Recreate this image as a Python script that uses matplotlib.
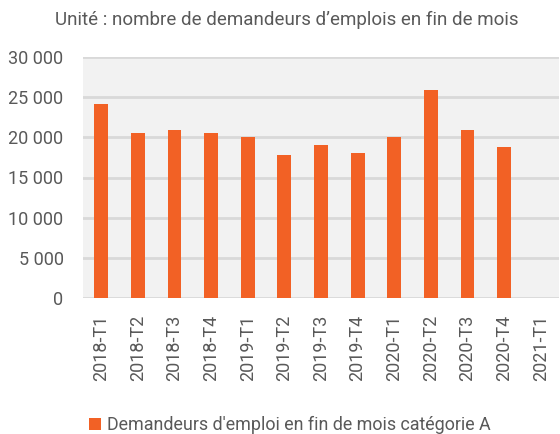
import matplotlib.pyplot as plt
import numpy as np

plt.rcParams['font.family'] = ['Roboto', 'DejaVu Sans']

trimestres = ["2018-T1", "2018-T2", "2018-T3", "2018-T4",
              "2019-T1", "2019-T2", "2019-T3", "2019-T4",
              "2020-T1", "2020-T2", "2020-T3", "2020-T4", "2021-T1"]
demandeurs = [24100, 20600, 20900, 20600,
              20100, 17800, 19100, 18100,
              20100, 25900, 20900, 18800, np.nan]
yticks = [0, 5000, 10000, 15000, 20000, 25000, 30000]
ytick_labels = ["0", "5 000", "10 000", "15 000", "20 000", "25 000", "30 000"]

grey_txt = "#595959"
orange = "#f26125"

fig = plt.figure(figsize=(5.6, 4.34), dpi=100)
ax = fig.add_axes([83 / 560, 1 - 298 / 434, 476 / 560, 241 / 434])
ax.set_facecolor("#f2f2f2")

x = np.arange(len(trimestres))
ax.bar(x, demandeurs, width=0.38, color=orange, zorder=3,
       label="Demandeurs d'emploi en fin de mois catégorie A")

ax.set_xlim(-0.5, len(trimestres) - 0.5)
ax.set_ylim(0, 30000)
ax.set_yticks(yticks)
ax.set_yticklabels(ytick_labels)
ax.set_xticks(x)
ax.set_xticklabels(trimestres, rotation=90)
ax.grid(axis="y", color="#d9d9d9", linewidth=2, zorder=1)
ax.tick_params(axis="both", length=0, labelsize=13, colors=grey_txt)
ax.tick_params(axis="y", pad=14)
ax.tick_params(axis="x", pad=12)
for s in ax.spines.values():
    s.set_visible(False)

fig.text(0.512, 1 - 20 / 434, "Unité : nombre de demandeurs d’emplois en fin de mois",
         ha="center", va="center", fontsize=13.5, color=grey_txt)

fig.legend(loc="center left", bbox_to_anchor=(73 / 560, 1 - 425 / 434),
           frameon=False, fontsize=12.9, labelcolor=grey_txt,
           handlelength=0.65, handleheight=0.65, handletextpad=0.35)

fig.savefig("out.png", dpi=100)
